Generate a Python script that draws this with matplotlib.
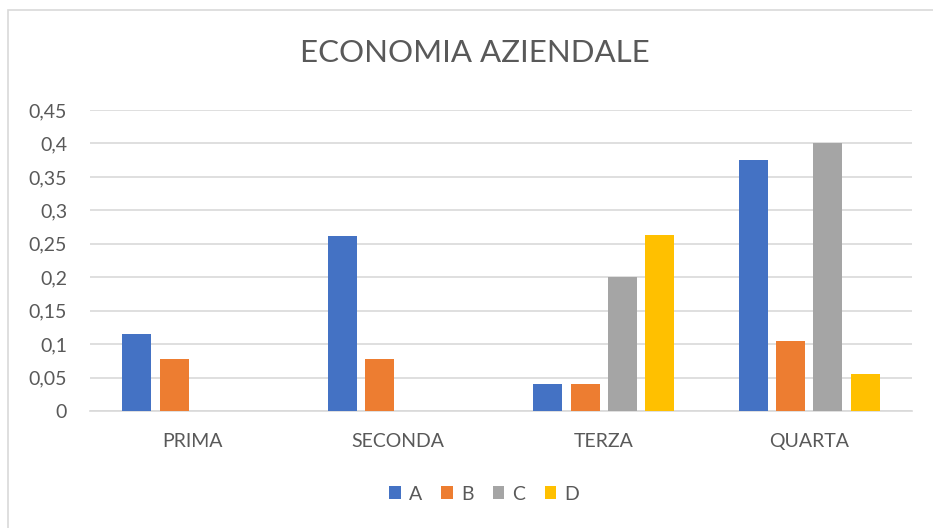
import numpy as np
import matplotlib.pyplot as plt
from matplotlib.patches import Rectangle

categories = ["PRIMA", "SECONDA", "TERZA", "QUARTA"]
series_names = ["A", "B", "C", "D"]
values_a = [0.115, 0.261, 0.04, 0.375]
values_b = [0.077, 0.077, 0.04, 0.105]
values_c = [0.0, 0.0, 0.2, 0.4]
values_d = [0.0, 0.0, 0.263, 0.055]
yticks = [0, 0.05, 0.1, 0.15, 0.2, 0.25, 0.3, 0.35, 0.4, 0.45]
ytick_labels = ["0", "0,05", "0,1", "0,15", "0,2", "0,25", "0,3", "0,35", "0,4", "0,45"]

colors = ["#4472C4", "#ED7D31", "#A5A5A5", "#FFC000"]
text_col = "#595959"
grid_col = "#D9D9D9"

plt.rcParams['font.family'] = ['Lato', 'DejaVu Sans']

fig = plt.figure(figsize=(9.33, 5.28), dpi=100)
ax = fig.add_axes([90 / 933, 1 - 411 / 528, (912 - 90) / 933, (411 - 110) / 528])

# chart frame (only top and left edges fall inside the picture)
fig.patches.append(Rectangle((8 / 933, -0.1), 1.2, (528 - 10) / 528 + 0.1,
                             transform=fig.transFigure, fill=False,
                             edgecolor=grid_col, linewidth=1.2))

x = np.arange(len(categories))
pitch = 0.1815
width = 0.141
all_values = [values_a, values_b, values_c, values_d]
for i, vals in enumerate(all_values):
    ax.bar(x + (i - 1.5) * pitch, vals, width, color=colors[i],
           label=series_names[i], zorder=3)

ax.set_xlim(-0.5, len(categories) - 0.5)
ax.set_ylim(0, 0.45)
ax.set_yticks(yticks)
ax.set_yticklabels(ytick_labels)
ax.set_xticks(x)
ax.set_xticklabels(categories)
ax.tick_params(axis='both', length=0, labelsize=14, colors=text_col)
ax.tick_params(axis='y', pad=16.5)
ax.tick_params(axis='x', pad=16)
ax.yaxis.grid(True, color=grid_col, linewidth=1.2, zorder=0)
for s in ["top", "right", "left"]:
    ax.spines[s].set_visible(False)
ax.spines["bottom"].set_color(grid_col)
ax.spines["bottom"].set_linewidth(1.2)

fig.text(475 / 933, 1 - 53 / 528, "ECONOMIA AZIENDALE", ha='center', va='center',
         fontsize=22.5, color=text_col)

fig.legend(loc='center', bbox_to_anchor=(484 / 933, 1 - 494 / 528), ncol=4,
           frameon=False, fontsize=14, handlelength=0.6, handleheight=0.6,
           handletextpad=0.4, columnspacing=1.0, labelcolor=text_col)

fig.savefig("out.png", dpi=100)
